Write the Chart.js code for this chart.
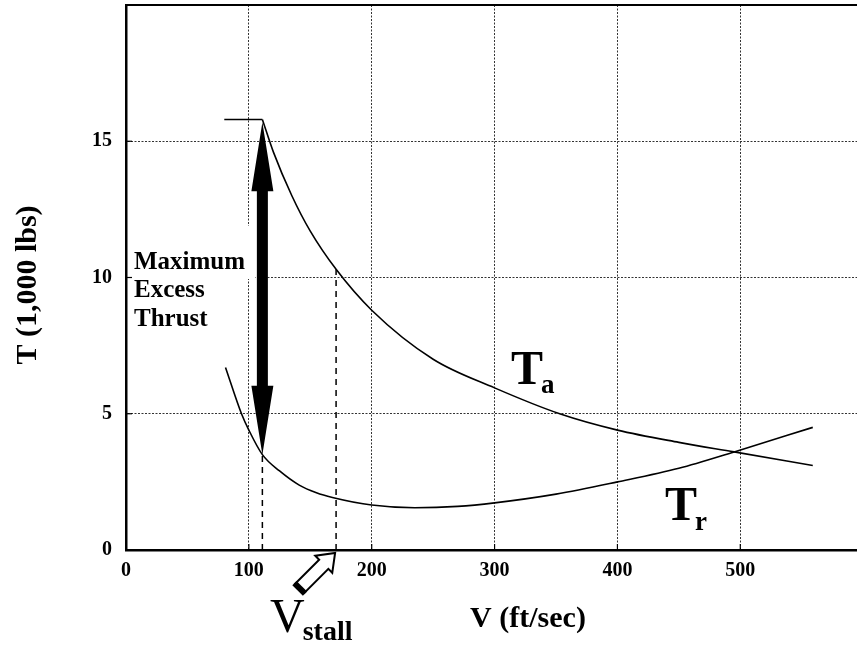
<!DOCTYPE html>
<html><head><meta charset="utf-8">
<script src="https://cdn.jsdelivr.net/npm/chart.js@4.4.1/dist/chart.umd.min.js"></script>
<style>html,body{margin:0;padding:0;background:#fff;overflow:hidden}canvas{display:block}</style>
</head><body>
<canvas id="c" width="857" height="646"></canvas>
<script>
// ---- data ----
const xTicks = [0, 100, 200, 300, 400, 500];
const yTicks = [0, 5, 10, 15];
const taFlatV = [80, 111];
const taFlatT = [15.8, 15.8];
const taV = [111, 120, 135, 150, 171, 200, 250, 300, 353, 400, 450, 495, 559];
const taT = [15.8, 14.6, 13.0, 11.7, 10.3, 8.8, 7.0, 5.95, 5.0, 4.4, 3.95, 3.6, 3.1];
const trV = [81, 94, 100, 111, 125, 141, 155, 168, 200, 235, 270, 300, 350, 400, 450, 495, 559];
const trT = [6.7, 5.0, 4.4, 3.5, 2.9, 2.38, 2.1, 1.93, 1.65, 1.55, 1.6, 1.73, 2.05, 2.5, 3.0, 3.6, 4.5];
const dropV = [111, 171];        // dashed verticals
const dropT = [3.5, 10.3];
const arrowV = 111;              // maximum excess thrust arrow
const arrowTopT = 15.7;
const arrowBottomT = 3.5;
const stallV = 171;
const xMin = 0, xMax = 595, yMin = 0, yMax = 20;
const labelLines = ['Maximum', 'Excess', 'Thrust'];
const yTitle = 'T (1,000 lbs)';
const xTitle = 'V (ft/sec)';

const pts = (xs, ys) => xs.map((x, i) => ({x, y: ys[i]}));
const serif = '"Liberation Serif","Times New Roman",serif';

const datasets = [
  {data: pts(taFlatV, taFlatT)},
  {data: pts(taV, taT), cubicInterpolationMode: 'monotone'},
  {data: pts(trV, trT), cubicInterpolationMode: 'monotone'},
].map(d => Object.assign({showLine: true, borderColor: '#000', borderWidth: 1.6, pointRadius: 0, fill: false}, d));
dropV.forEach((v, i) => datasets.push({
  data: [{x: v, y: 0}, {x: v, y: dropT[i]}], showLine: true, borderColor: '#000',
  borderWidth: 1.5, borderDash: [6, 5], pointRadius: 0, fill: false
}));

const decor = {
  id: 'decor',
  beforeDatasetsDraw(chart) {
    const ctx = chart.ctx, a = chart.chartArea;
    ctx.save();
    ctx.fillStyle = '#fff';
    ctx.font = 'bold 25px ' + serif;
    ctx.fillRect(a.left + 2, 226, 127, 53);
    const w1 = ctx.measureText(labelLines[1]).width, w2 = ctx.measureText(labelLines[2]).width;
    ctx.fillRect(a.left + 2, 279, w1 + 12, 26);
    ctx.fillRect(a.left + 2, 305, w2 + 12, 28);
    // top border
    ctx.strokeStyle = '#000'; ctx.lineWidth = 2;
    ctx.beginPath(); ctx.moveTo(a.left - 1, a.top); ctx.lineTo(a.right, a.top); ctx.stroke();
    // inner tick marks
    const xs = chart.scales.x, ys = chart.scales.y;
    ctx.lineWidth = 1.2;
    xTicks.forEach(v => { const px = xs.getPixelForValue(v); ctx.beginPath(); ctx.moveTo(px, a.bottom); ctx.lineTo(px, a.bottom - 6); ctx.stroke(); });
    yTicks.forEach(v => { const py = ys.getPixelForValue(v); ctx.beginPath(); ctx.moveTo(a.left, py); ctx.lineTo(a.left + 6, py); ctx.stroke(); });
    ctx.restore();
  },
  afterDatasetsDraw(chart) {
    const ctx = chart.ctx, a = chart.chartArea;
    const xs = chart.scales.x, ys = chart.scales.y;
    ctx.save();
    // big double arrow
    const ax = xs.getPixelForValue(arrowV);
    const yT = ys.getPixelForValue(arrowTopT), yB = ys.getPixelForValue(arrowBottomT);
    const hl = 69, hw = 11, sw = 5.5;
    ctx.fillStyle = '#000';
    ctx.beginPath();
    ctx.moveTo(ax, yT); ctx.lineTo(ax + hw, yT + hl); ctx.lineTo(ax + sw, yT + hl);
    ctx.lineTo(ax + sw, yB - hl); ctx.lineTo(ax + hw, yB - hl); ctx.lineTo(ax, yB);
    ctx.lineTo(ax - hw, yB - hl); ctx.lineTo(ax - sw, yB - hl); ctx.lineTo(ax - sw, yT + hl);
    ctx.lineTo(ax - hw, yT + hl); ctx.closePath(); ctx.fill();

    // labels: Maximum Excess Thrust
    ctx.font = 'bold 25px ' + serif;
    ctx.textBaseline = 'alphabetic'; ctx.textAlign = 'left';
    [269, 297, 326].forEach((by, i) => ctx.fillText(labelLines[i], a.left + 8, by));

    // T_a, T_r, V_stall
    const sub = (main, s, x, y, yS, fm, fs) => {
      ctx.font = fm + ' ' + serif; ctx.fillText(main, x, y);
      const w = ctx.measureText(main).width;
      ctx.font = fs + ' ' + serif; ctx.fillText(s, x + w - 2, yS);
    };
    sub('T', 'a', 511, 384, 393, 'bold 48px', 'bold 27px');
    sub('T', 'r', 665, 520, 530, 'bold 48px', 'bold 27px');
    sub('V', 'stall', 270, 632, 640, '48px', 'bold 28px');

    // V_stall hollow arrow
    const tipX = xs.getPixelForValue(stallV) - 1, tipY = a.bottom + 3;
    ctx.save();
    ctx.translate(tipX, tipY); ctx.rotate(Math.PI * 0.75);
    const L = 50;
    ctx.beginPath();
    ctx.moveTo(0, 0); ctx.lineTo(16, -12); ctx.lineTo(16, -6.5); ctx.lineTo(L, -6.5);
    ctx.lineTo(L, 6.5); ctx.lineTo(16, 6.5); ctx.lineTo(16, 12); ctx.closePath();
    ctx.fillStyle = '#fff'; ctx.fill();
    ctx.strokeStyle = '#000'; ctx.lineWidth = 2; ctx.lineJoin = 'miter'; ctx.stroke();
    ctx.lineWidth = 6; ctx.beginPath(); ctx.moveTo(L, -7.5); ctx.lineTo(L, 7.5); ctx.stroke();
    ctx.restore();

    // axis titles
    ctx.fillStyle = '#000';
    ctx.font = 'bold 30px ' + serif; ctx.textAlign = 'center'; ctx.textBaseline = 'middle';
    ctx.fillText(xTitle, 528, 619);
    ctx.save(); ctx.translate(28, 285); ctx.rotate(-Math.PI / 2);
    ctx.fillText(yTitle, 0, 0); ctx.restore();
    ctx.restore();
  }
};

const gridCfg = {
  color: c => (c.tick && c.tick.value === 0) ? 'rgba(0,0,0,0)' : '#333',
  lineWidth: 1, drawTicks: false
};

new Chart(document.getElementById('c'), {
  type: 'scatter',
  data: {datasets},
  plugins: [decor],
  options: {
    responsive: false, animation: false, devicePixelRatio: 1,
    layout: {padding: {top: 5, right: 0, left: 0, bottom: 0}},
    plugins: {legend: {display: false}, tooltip: {enabled: false}},
    scales: {
      x: {
        type: 'linear', min: xMin, max: xMax,
        afterBuildTicks: s => { s.ticks = xTicks.map(v => ({value: v})); },
        afterFit: s => { s.height = 96; s.paddingLeft = 0; s.paddingRight = 0; },
        grid: gridCfg,
        border: {display: true, color: '#000', width: 2.5, dash: [2, 1.5]},
        ticks: {color: '#000', padding: 9, font: {family: serif, size: 20, weight: 'bold'}, callback: v => String(v), maxRotation: 0}
      },
      y: {
        type: 'linear', min: yMin, max: yMax,
        afterBuildTicks: s => { s.ticks = yTicks.map(v => ({value: v})); },
        afterFit: s => { s.width = 126; s.paddingTop = 0; s.paddingBottom = 0; },
        grid: gridCfg,
        border: {display: true, color: '#000', width: 2.5, dash: [2, 1.5]},
        ticks: {color: '#000', padding: 14, font: {family: serif, size: 20, weight: 'bold'}, callback: v => String(v)}
      }
    }
  }
});
</script>
</body></html>
